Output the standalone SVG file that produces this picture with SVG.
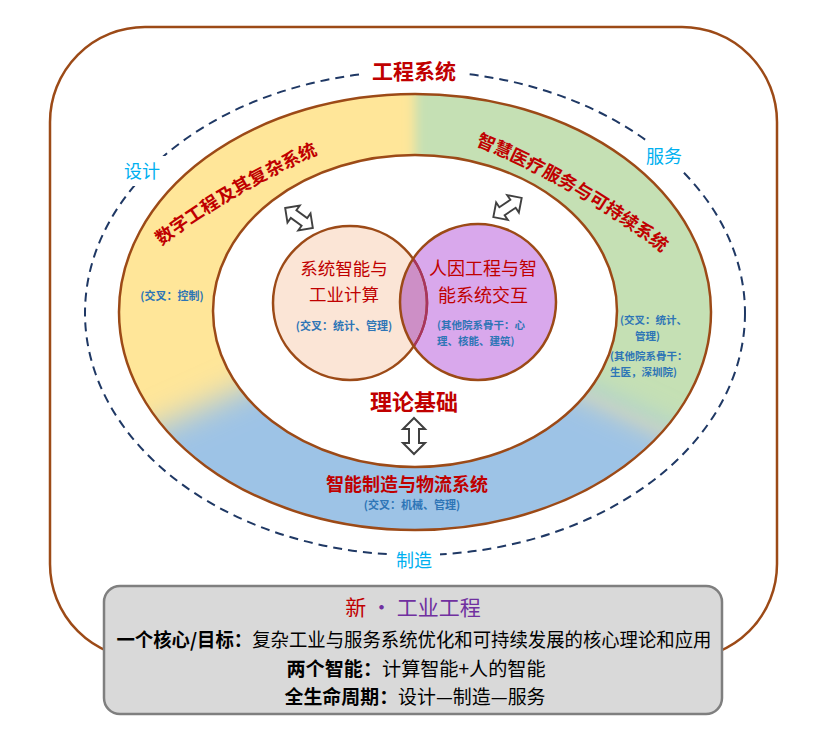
<svg xmlns="http://www.w3.org/2000/svg" width="828" height="735" viewBox="0 0 828 735">
<style>
text{font-family:"Noto Sans CJK SC","Noto Sans",sans-serif}
.red{fill:#c00000}
.arc{font-size:18px;font-weight:bold}
.blue{fill:#2e75b6;font-size:11px;font-weight:bold}
.sm{font-size:10.5px}
.cyan{fill:#00b0f0;font-size:18px;text-anchor:middle}
.edge{fill:none;stroke:#9c4a17;stroke-width:2.5}
.arrow{fill:#fff;stroke:#404040;stroke-width:2;stroke-linejoin:miter}
.mid{text-anchor:middle}
.blk{fill:#000;font-size:19px}
</style>
<defs>
<clipPath id="ringClip"><path clip-rule="evenodd" d="M119,312 a296,218 0 1,0 592,0 a296,218 0 1,0 -592,0 Z M213,311 a202,156 0 1,0 404,0 a202,156 0 1,0 -404,0 Z"/></clipPath>
<filter id="b1" x="-50%" y="-50%" width="200%" height="200%"><feGaussianBlur stdDeviation="6"/></filter>
<filter id="b2" x="-50%" y="-50%" width="200%" height="200%"><feGaussianBlur stdDeviation="16"/></filter>
<clipPath id="rightC"><circle cx="478" cy="302" r="78"/></clipPath>
<path id="dblArrow" d="M-18,0 L-7,-11 L-7,-5 L7,-5 L7,-11 L18,0 L7,11 L7,5 L-7,5 L-7,11 Z"/>
<path id="arcL" d="M72.9,322.7 A793.5,793.5 0 0 1 427.5,115.5"/>
<path id="arcR" d="M381.1,113.3 A793.5,793.5 0 0 1 736.8,318.7"/>
</defs>

<g id="frame">
<rect x="50" y="27" width="727" height="632" rx="95" fill="#fff" stroke="#9c4a17" stroke-width="2.5"/>
</g>

<g id="engineering-system">
<ellipse cx="415" cy="313" rx="330" ry="242" fill="none" stroke="#1f3864" stroke-width="2" stroke-dasharray="9 6"/>
<rect x="360" y="57" width="108" height="30" fill="#fff"/>
<rect x="116" y="156" width="52" height="30" fill="#fff"/>
<rect x="638" y="141" width="52" height="30" fill="#fff"/>
<rect x="388" y="545" width="52" height="30" fill="#fff"/>
<text class="red mid" x="414" y="79" font-size="21" font-weight="bold">工程系统</text>
<text class="cyan" x="142" y="178">设计</text>
<text class="cyan" x="664" y="163">服务</text>
<text class="cyan" x="414" y="567">制造</text>
</g>

<g id="ring">
<g clip-path="url(#ringClip)">
<rect x="0" y="0" width="828" height="735" fill="#ffe699"/>
<polygon filter="url(#b1)" fill="#c5e0b4" points="415,312 415,-200 1300,-200 1300,727"/>
<polygon filter="url(#b2)" fill="#9dc3e6" points="415,312 -500,723 -500,1200 1300,1200 1300,727"/>
</g>
<ellipse class="edge" cx="415" cy="312" rx="296" ry="218"/>
<ellipse class="edge" cx="415" cy="311" rx="202" ry="156"/>
</g>

<g id="digital-engineering">
<text class="red arc"><textPath href="#arcL" startOffset="117.2">数字工程</textPath></text>
<text class="red arc"><textPath href="#arcL" startOffset="190.2">及其复</textPath></text>
<text class="red arc"><textPath href="#arcL" startOffset="245.2">杂系统</textPath></text>
<text class="blue mid" x="172" y="300">(交叉：控制)</text>
</g>

<g id="smart-healthcare">
<text class="red arc"><textPath href="#arcR" startOffset="99.7">智慧医疗</textPath></text>
<text class="red arc"><textPath href="#arcR" startOffset="171.7">服务与可</textPath></text>
<text class="red arc"><textPath href="#arcR" startOffset="243.7">持续系统</textPath></text>
<text class="blue sm"><tspan x="620" y="324">(交叉：统计、</tspan><tspan x="635" y="339.5">管理)</tspan></text>
<text class="blue sm"><tspan x="610" y="360">(其他院系骨干：</tspan><tspan x="610" y="375.5">生医，深圳院)</tspan></text>
</g>

<g id="smart-manufacturing">
<text class="red mid" x="407" y="491" font-size="18" font-weight="bold">智能制造与物流系统</text>
<text class="blue mid" x="412" y="509">(交叉：机械、管理)</text>
</g>

<g id="venn-left">
<circle cx="350" cy="303" r="77" fill="#fbe5d6"/>
</g>
<g id="venn-right">
<circle cx="478" cy="302" r="78" fill="#d9a8ec"/>
<circle cx="350" cy="303" r="77" fill="#cd8fc6" clip-path="url(#rightC)"/>
<circle class="edge" cx="350" cy="303" r="77"/>
<circle cx="350" cy="303" r="77" fill="none" stroke="#a8345f" stroke-width="2.5" clip-path="url(#rightC)"/>
<circle class="edge" cx="478" cy="302" r="78"/>
</g>
<g id="venn-left-text">
<text class="red mid" font-size="17.5"><tspan x="344" y="275">系统智能与</tspan><tspan x="344" y="301">工业计算</tspan></text>
<text class="blue mid" x="344" y="330">(交叉：统计、管理)</text>
</g>
<g id="venn-right-text">
<text class="red mid" font-size="18"><tspan x="483" y="275">人因工程与智</tspan><tspan x="483" y="301.5">能系统交互</tspan></text>
<text class="blue sm"><tspan x="437" y="329">(其他院系骨干：心</tspan><tspan x="437" y="344.5">理、核能、建筑)</tspan></text>
</g>

<g id="theory">
<text class="red mid" x="414" y="410" font-size="22" font-weight="bold">理论基础</text>
</g>

<g id="connectors">
<use href="#dblArrow" class="arrow" transform="translate(299,218) rotate(36) scale(0.95)"/>
<use href="#dblArrow" class="arrow" transform="translate(507.5,207.5) rotate(-34) scale(0.95)"/>
<use href="#dblArrow" class="arrow" transform="translate(414,436) rotate(90)"/>
</g>

<g id="summary-box">
<rect x="104" y="586" width="618" height="128" rx="16" fill="#d9d9d9" stroke="#7f7f7f" stroke-width="2.5"/>
<text class="mid" x="413" y="615" font-size="21"><tspan fill="#c00000">新</tspan><tspan fill="#7030a0"> · 工业工程</tspan></text>
<text class="blk mid" x="414" y="647" textLength="595" lengthAdjust="spacingAndGlyphs"><tspan font-weight="bold">一个核心/目标：</tspan>复杂工业与服务系统优化和可持续发展的核心理论和应用</text>
<text class="blk mid" x="416" y="676" textLength="259" lengthAdjust="spacingAndGlyphs"><tspan font-weight="bold">两个智能：</tspan>计算智能+人的智能</text>
<text class="blk mid" x="415" y="704" textLength="261" lengthAdjust="spacingAndGlyphs"><tspan font-weight="bold">全生命周期：</tspan>设计—制造—服务</text>
</g>
</svg>
